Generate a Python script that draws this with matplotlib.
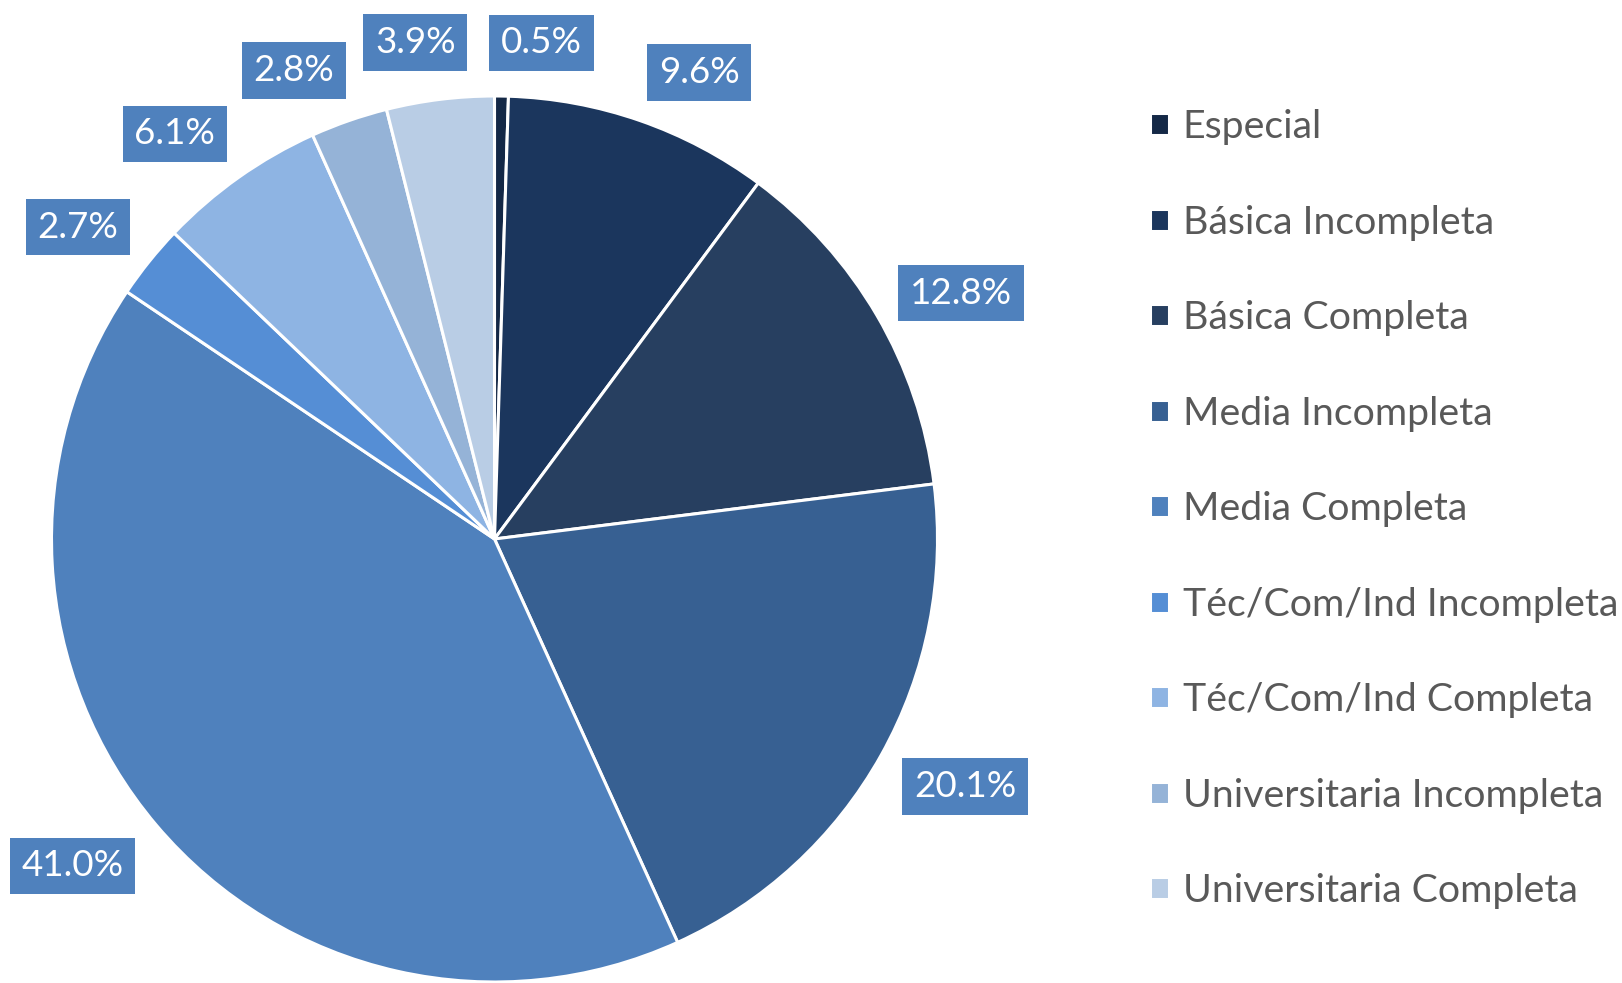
import matplotlib.pyplot as plt
import numpy as np

plt.rcParams['font.family'] = ['Lato', 'DejaVu Sans']

# data
categories = ['Especial', 'Básica Incompleta', 'Básica Completa', 'Media Incompleta',
              'Media Completa', 'Téc/Com/Ind Incompleta', 'Téc/Com/Ind Completa',
              'Universitaria Incompleta', 'Universitaria Completa']
shares = [0.5, 9.6, 12.8, 20.1, 41.0, 2.7, 6.1, 2.8, 3.9]
colors = ['#142846', '#1b365d', '#273f60', '#376092', '#4f81bd',
          '#558ed5', '#8eb4e3', '#95b3d7', '#b9cde5']

# label placement (radius in pie units, angular nudge in degrees)
lab_r = [1.125, 1.15, 1.19, 1.2, 1.205, 1.175, 1.165, 1.15, 1.135]
lab_nudge = [-4.5, -4.5, -2.5, 1.5, -2.5, 2.0, 3.0, 4.0, 2.0]

W, H = 1622, 983
fig = plt.figure(figsize=(W / 100, H / 100), dpi=100)
R = 443
cx, cy = 494.5, 539
ax = fig.add_axes([(cx - R) / W, (H - cy - R) / H, 2 * R / W, 2 * R / H])

wedges, _ = ax.pie(shares, colors=colors, startangle=90, counterclock=False,
                   wedgeprops=dict(edgecolor='white', linewidth=2.2))
ax.set_xlim(-1, 1)
ax.set_ylim(-1, 1)
ax.set_aspect('equal')
ax.axis('off')

for w, s, r, d in zip(wedges, shares, lab_r, lab_nudge):
    mid = np.deg2rad((w.theta1 + w.theta2) / 2 + d)
    ax.text(r * np.cos(mid), r * np.sin(mid), f'{s:.1f}%', ha='center', va='center',
            color='white', fontsize=26.5, clip_on=False,
            bbox=dict(boxstyle='square,pad=0.32', facecolor='#4f81bd', edgecolor='none'))

leg = fig.legend(wedges, categories, loc='upper left',
                 bbox_to_anchor=(1150 / W, 1 - 109 / H), frameon=False,
                 fontsize=28.3, labelcolor='#595959', handlelength=0.48,
                 handleheight=0.48, handletextpad=0.35, labelspacing=1.515,
                 borderpad=0, borderaxespad=0)

fig.savefig('out.png', dpi=100)
